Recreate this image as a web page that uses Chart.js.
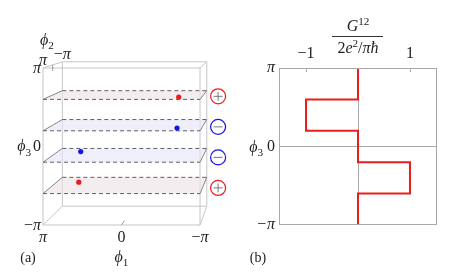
<!DOCTYPE html>
<html>
<head>
<meta charset="utf-8">
<script src="https://cdn.jsdelivr.net/npm/chart.js@4.4.1/dist/chart.umd.min.js"></script>
<style>
  html, body { margin: 0; padding: 0; background: #fff; }
  #wrap { position: relative; width: 458px; height: 275px; }
  .panel { position: absolute; top: 0; width: 229px; height: 275px; }
</style>
</head>
<body>
<div id="wrap">
  <div class="panel" style="left:0"><canvas id="cubeChart" width="229" height="275"></canvas></div>
  <div class="panel" style="left:229px"><canvas id="condChart" width="229" height="275"></canvas></div>
</div>
<script>
// all angles in units of pi
const cubeRange = [-1, 1];
const planeLevels = [0.6, 0.2, -0.2, -0.6];
const planeCharges = ['+', '-', '-', '+'];
const pointPhi1 = [-0.7, -0.68, 0.69, 0.7];
const pointPhi2 = [0.48, 0.52, -0.54, -0.4];
// G12 / (2e^2/pi hbar) between successive phi3 boundaries
const stepBounds = [1, 0.6, 0.2, -0.2, -0.6, -1];
const conductance = [0, -1, 0, 1, 0];
const piTicks = [-1, 0, 1];
const piTickLabels = ['−π', '0', 'π'];
const gTicks = [-1, 0, 1];
const gTickLabels = ['−1', '', '1'];

const RED = 'rgb(236,28,28)';
const BLUE = 'rgb(20,20,235)';
const SERIF = '"Liberation Serif", "DejaVu Serif", serif';
const FS = 16;

// crude perspective: front face at phi2 = pi, back face at phi2 = -pi
function project(p1, p2, p3) {
    const t = (1 - p2) / 2;
    const sc = 1 - 0.08 * t;
    return { x: 0.166 * t - sc * p1, y: 0.159 * t + sc * p3 };
}

// draws a small run of math text: [{t, it, sub, sup}]
function drawMath(ctx, parts, x, y, align, size) {
    const fontFor = p => (p.it ? 'italic ' : '') + ((p.sub || p.sup) ? size * 0.7 : size) + 'px ' + SERIF;
    let w = 0;
    parts.forEach(p => { ctx.font = fontFor(p); w += ctx.measureText(p.t).width; });
    let cx = align === 'center' ? x - w / 2 : (align === 'right' ? x - w : x);
    ctx.textAlign = 'left';
    ctx.textBaseline = 'alphabetic';
    ctx.fillStyle = '#222';
    parts.forEach(p => {
        ctx.font = fontFor(p);
        const dy = p.sub ? size * 0.28 : (p.sup ? -size * 0.38 : 0);
        ctx.fillText(p.t, cx, y + dy);
        cx += ctx.measureText(p.t).width;
    });
}

const PIt = [{ t: 'π', it: true }];
const MPIt = [{ t: '−' }, { t: 'π', it: true }];
const ZERO = [{ t: '0' }];
const phiSym = n => [{ t: 'ϕ', it: true }, { t: String(n), sub: true }];

// ---------- panel (a): cube with planes ----------
const cubeSets = [];
const lo = cubeRange[0], hi = cubeRange[1];
function seg(a, b, style) {
    const pa = project(...a), pb = project(...b);
    cubeSets.push(Object.assign({
        data: [pa, pb], showLine: true, pointRadius: 0, borderWidth: 1, fill: false
    }, style));
}
cubeRange.forEach(a => cubeRange.forEach(b => {
    const st = { borderColor: '#c6c6c6', order: 4 };
    seg([lo, a, b], [hi, a, b], st);
    seg([a, lo, b], [a, hi, b], st);
    seg([a, b, lo], [a, b, hi], st);
}));

planeLevels.forEach((h, i) => {
    const fl = [hi, hi, h], fr = [lo, hi, h], br = [lo, lo, h], bl = [hi, lo, h];
    cubeSets.push({
        data: [fl, fr, br, bl, fl].map(c => project(...c)),
        showLine: true, pointRadius: 0, borderWidth: 0,
        fill: 'shape',
        backgroundColor: planeCharges[i] === '+' ? 'rgba(236,228,232,0.65)' : 'rgba(230,230,250,0.65)',
        order: 3
    });
    const dash = { borderColor: '#606060', borderDash: [4, 3], order: 2 };
    seg(fl, fr, dash);
    seg(bl, br, dash);
    const side = { borderColor: '#858585', order: 2 };
    seg(fl, bl, side);
    seg(fr, br, side);
});

cubeSets.push({
    data: planeLevels.map((h, i) => project(pointPhi1[i], pointPhi2[i], h)),
    pointRadius: 2.6, pointBorderWidth: 0,
    pointBackgroundColor: planeCharges.map(c => c === '+' ? RED : BLUE),
    order: 0
});

// charge markers to the right of each plane
const chargePos = planeLevels.map(h => {
    const p = project(lo, 0.3, h);
    return { x: p.x + 0.2, y: p.y };
});
cubeSets.push({
    data: chargePos, pointStyle: 'circle', pointRadius: 7.5, pointBorderWidth: 1.2,
    pointBackgroundColor: 'rgba(0,0,0,0)',
    pointBorderColor: planeCharges.map(c => c === '+' ? RED : BLUE),
    order: 0
});
cubeSets.push({
    data: chargePos, pointStyle: planeCharges.map(c => c === '+' ? 'cross' : 'line'),
    pointRadius: 4.5, pointBorderWidth: 1, pointBorderColor: '#777',
    order: 0
});

const cubeLabels = {
    id: 'cubeLabels',
    afterDraw(chart) {
        const { ctx, scales } = chart;
        const px = (p1, p2, p3) => {
            const p = project(p1, p2, p3);
            return { x: scales.x.getPixelForValue(p.x), y: scales.y.getPixelForValue(p.y) };
        };
        ctx.save();
        // small ticks
        ctx.strokeStyle = '#999';
        ctx.lineWidth = 1;
        [[px(0, hi, lo), px(0, 0.55, lo)], [px(hi, 0, hi), px(hi, 0, 0.92)]].forEach(([a, b]) => {
            ctx.beginPath(); ctx.moveTo(a.x, a.y); ctx.lineTo(b.x, b.y); ctx.stroke();
        });
        // phi3 axis on the front left edge
        const phi3Lbl = [PIt, ZERO, MPIt];
        [hi, 0, lo].forEach((v, i) => {
            const p = px(hi, hi, v);
            drawMath(ctx, phi3Lbl[i], p.x - 2, p.y + 5, 'right', FS);
        });
        const z = px(hi, hi, 0);
        drawMath(ctx, phiSym(3), z.x - 12, z.y + 5, 'right', FS);
        // phi1 along the front bottom edge
        const phi1Lbl = [PIt, ZERO, MPIt];
        [hi, 0, lo].forEach((v, i) => {
            const p = px(v, hi, lo);
            drawMath(ctx, phi1Lbl[i], p.x, p.y + 17, 'center', FS);
        });
        const b = px(0, hi, lo);
        drawMath(ctx, phiSym(1), b.x, b.y + 37, 'center', FS);
        // phi2 along the top left edge
        const f = px(hi, hi, hi), k = px(hi, lo, hi);
        drawMath(ctx, PIt, f.x, f.y - 3, 'center', FS);
        drawMath(ctx, MPIt, k.x, k.y - 3, 'center', FS);
        drawMath(ctx, phiSym(2), f.x + 4, f.y - 23, 'center', FS);
        drawMath(ctx, [{ t: '(a)' }], 28, 262, 'center', 14);
        ctx.restore();
    }
};

new Chart(document.getElementById('cubeChart'), {
    type: 'scatter',
    data: { datasets: cubeSets },
    options: {
        responsive: false,
        animation: false,
        events: [],
        layout: { padding: 0, autoPadding: false },
        plugins: { legend: { display: false }, tooltip: { enabled: false } },
        scales: {
            x: { type: 'linear', min: -1.548, max: 1.369, display: false },
            y: { type: 'linear', min: -1.637, max: 1.866, display: false }
        }
    },
    plugins: [cubeLabels]
});

// ---------- panel (b): conductance steps ----------
const stepPts = [];
conductance.forEach((g, i) => {
    stepPts.push({ x: g, y: stepBounds[i] }, { x: g, y: stepBounds[i + 1] });
});

const condFrame = {
    id: 'condFrame',
    afterDraw(chart) {
        const { ctx, chartArea: a, scales } = chart;
        ctx.save();
        ctx.strokeStyle = '#a8a8a8';
        ctx.lineWidth = 1;
        ctx.strokeRect(a.left + 0.5, a.top + 0.5, a.right - a.left - 1, a.bottom - a.top - 1);
        gTicks.forEach(v => {
            if (v === 0) return;
            const x = Math.round(scales.x.getPixelForValue(v)) + 0.5;
            ctx.beginPath(); ctx.moveTo(x, a.top); ctx.lineTo(x, a.top + 4); ctx.stroke();
        });
        // axis titles
        const cx = (a.left + a.right) / 2;
        drawMath(ctx, [{ t: 'G', it: true }, { t: '12', sup: true }], cx, 31, 'center', FS);
        ctx.strokeStyle = '#333';
        ctx.beginPath(); ctx.moveTo(cx - 26, 36.5); ctx.lineTo(cx + 25, 36.5); ctx.stroke();
        drawMath(ctx, [{ t: '2' }, { t: 'e', it: true }, { t: '2', sup: true }, { t: '/' }, { t: 'π', it: true }, { t: 'ħ', it: true }], cx, 53, 'center', FS);
        const y0 = scales.y.getPixelForValue(0);
        drawMath(ctx, phiSym(3), a.left - 16, y0 + 5, 'right', FS);
        drawMath(ctx, [{ t: '(b)' }], 29, 262, 'center', 14);
        ctx.restore();
    }
};

new Chart(document.getElementById('condChart'), {
    type: 'scatter',
    data: {
        datasets: [{
            data: stepPts, showLine: true, pointRadius: 0,
            borderColor: RED, borderWidth: 2, fill: false
        }]
    },
    options: {
        responsive: false,
        animation: false,
        events: [],
        layout: { padding: { left: 0, right: 21, top: 0, bottom: 50 }, autoPadding: false },
        plugins: { legend: { display: false }, tooltip: { enabled: false } },
        scales: {
            x: {
                type: 'linear', position: 'top', min: -1.52, max: 1.52,
                afterBuildTicks: s => { s.ticks = gTicks.map(v => ({ value: v })); },
                afterFit: s => { s.height = 68; },
                ticks: {
                    callback: (v, i) => gTickLabels[i], color: '#222', padding: 5,
                    maxRotation: 0, font: { family: SERIF, size: FS }
                },
                grid: { color: c => (c.tick && c.tick.value === 0) ? '#a8a8a8' : 'rgba(0,0,0,0)', drawTicks: false },
                border: { display: false }
            },
            y: {
                type: 'linear', min: -1, max: 1,
                afterBuildTicks: s => { s.ticks = piTicks.map(v => ({ value: v })); },
                afterFit: s => { s.width = 50; },
                ticks: {
                    callback: (v, i) => piTickLabels[i], color: '#222', padding: 4,
                    font: c => ({ family: SERIF, size: FS, style: (c.tick && c.tick.value === 0) ? 'normal' : 'italic' })
                },
                grid: { color: c => (c.tick && c.tick.value === 0) ? '#a8a8a8' : 'rgba(0,0,0,0)', drawTicks: false },
                border: { display: false }
            }
        }
    },
    plugins: [condFrame]
});
</script>
</body>
</html>
